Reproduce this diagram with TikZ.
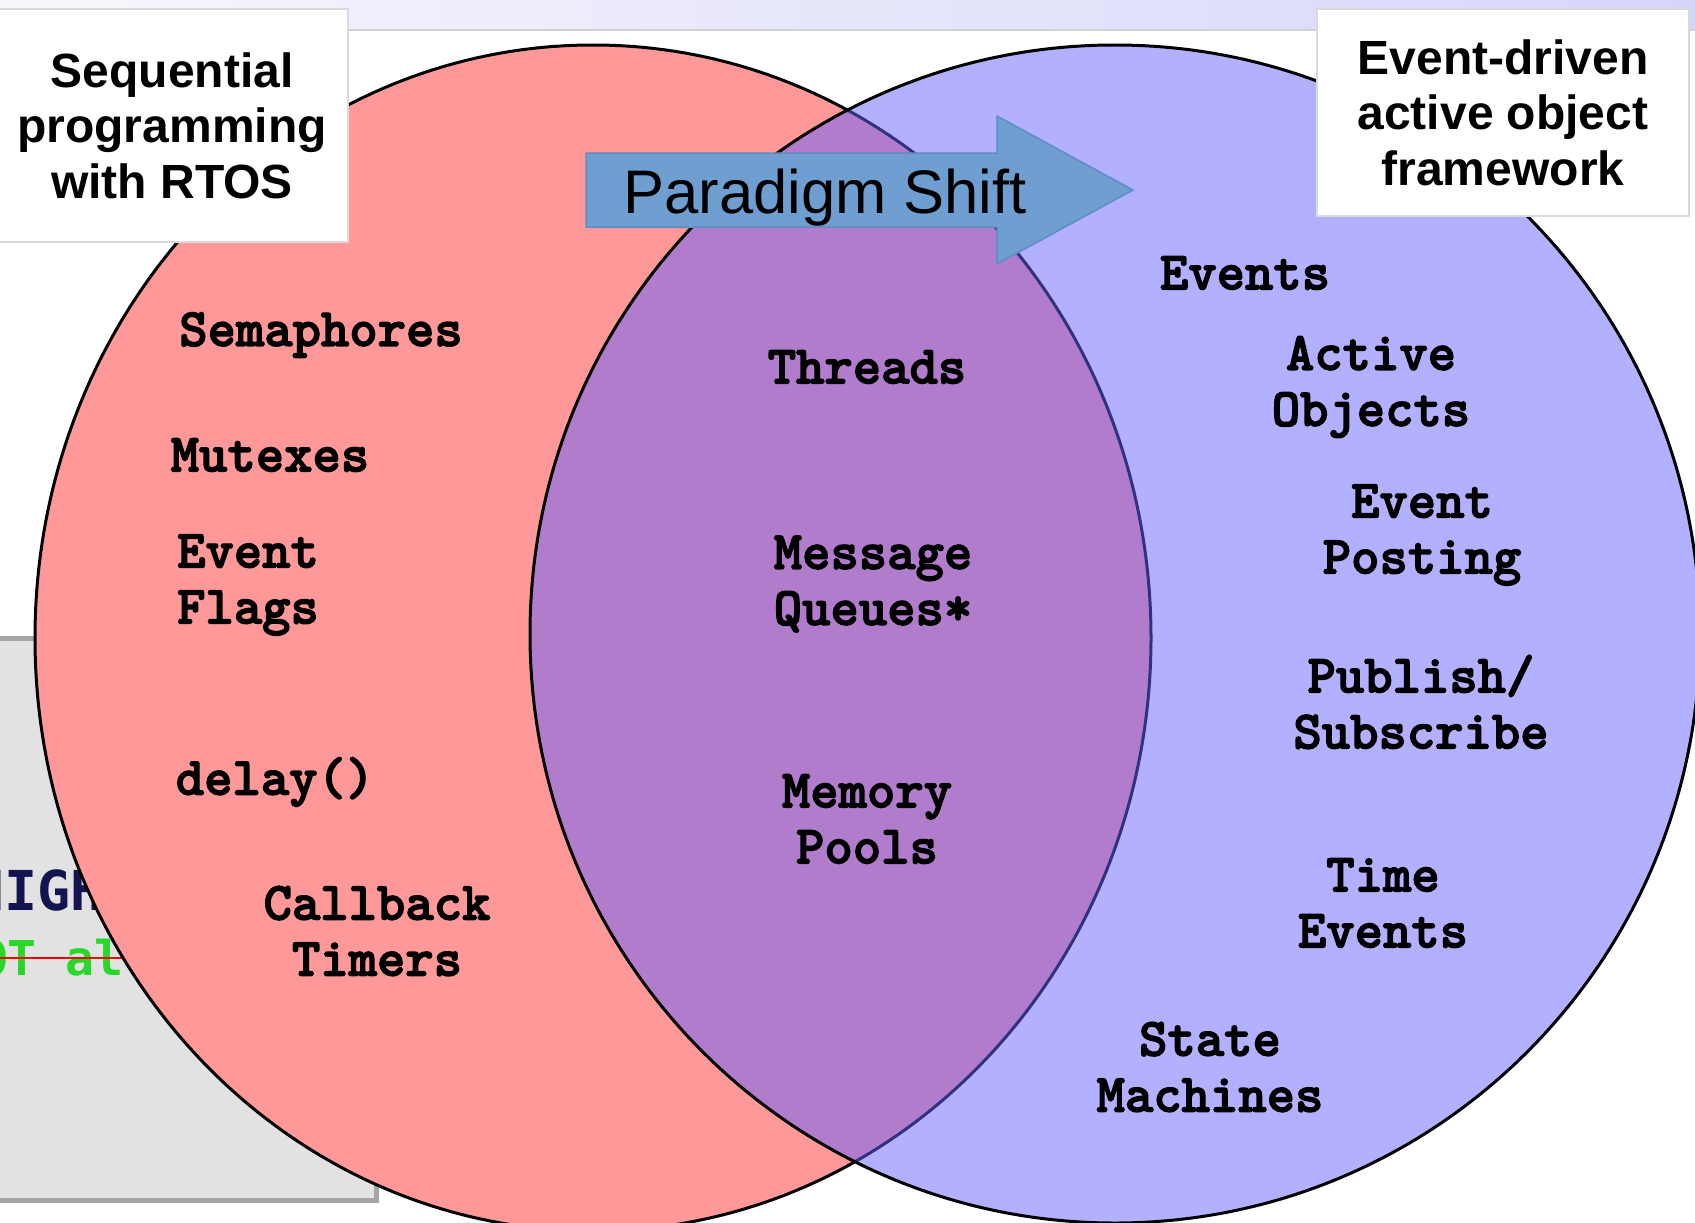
\documentclass[tikz,border=0pt]{standalone}
\usepackage{fontspec}
\newfontfamily\boxfont{Liberation Sans}
\newfontfamily\codefont{DejaVu Sans Mono}
\newfontfamily\itemfont[FakeBold=2.5]{lmmonolt10-bold.otf}
\usetikzlibrary{calc}

\definecolor{setpink}{RGB}{255,153,153}
\definecolor{setblue}{RGB}{101,97,255}
\definecolor{shiftblue}{RGB}{111,158,209}
\definecolor{shiftedge}{RGB}{96,140,196}
\definecolor{panelgray}{RGB}{226,226,226}
\definecolor{paneledge}{RGB}{165,165,165}
\definecolor{bandleft}{RGB}{247,247,252}
\definecolor{bandright}{RGB}{214,214,250}
\definecolor{hinavy}{RGB}{20,20,80}
\definecolor{hgreen}{RGB}{40,215,40}
\definecolor{boxedge}{RGB}{218,218,218}

\tikzset{
  item/.style={font=\fontsize{54}{56}\selectfont\itemfont, align=center, inner sep=0pt},
  titlebox/.style={draw=boxedge, line width=2.5pt, fill=white, align=center,
                   font=\fontsize{48}{55.5}\selectfont\boxfont\bfseries, inner sep=0pt},
  codeline/.style={inner sep=0pt, anchor=base west},
  outline/.style={draw=black, line width=3pt},
}

\begin{document}
\begin{tikzpicture}[x=1pt,y=-1pt]
\useasboundingbox (0,0) rectangle (1695,1223);
\clip (0,0) rectangle (1695,1223);

% header band
\shade[left color=bandleft, right color=bandright] (0,0) rectangle (1695,30);
\draw[black!18, line width=2pt] (0,30) -- (1695,30);

% grey code panel in the background
\draw[fill=panelgray, draw=paneledge, line width=5pt] (-20,638) rectangle (376,1200);
\node[codeline, text=hinavy, font=\fontsize{55}{55}\selectfont\codefont\bfseries] (high) at (-29,910) {HIGH};
\node[codeline, text=hgreen, font=\fontsize{48}{48}\selectfont\codefont\bfseries] (notal) at (-50,975) {NOT al};
\draw[red, line width=2pt] ($(notal.base west)+(0,-17)$) -- ($(notal.base east)+(0,-17)$);

% the two sets
\filldraw[fill=setpink, outline] (593,638) ellipse [x radius=558pt, y radius=593pt];
\fill[setblue, fill opacity=0.5] (1115,634) ellipse [x radius=585pt, y radius=589pt];
\draw[outline] (1115,634) ellipse [x radius=585pt, y radius=589pt];

% titles
\node[titlebox, minimum width=352pt, minimum height=233pt] (seq) at (172,125.5)
  {Sequential\\programming\\with RTOS};
\node[titlebox, minimum width=372pt, minimum height=207pt] (evt) at (1503,112.5)
  {Event-driven\\active object\\framework};

% paradigm shift arrow
\filldraw[fill=shiftblue, draw=shiftedge, line width=1.5pt]
  (586,153) -- (997,153) -- (997,116) -- (1133,190) -- (997,264) -- (997,227) -- (586,227) -- cycle;
\node[font=\fontsize{61.5}{70}\selectfont\boxfont, anchor=base, inner sep=0pt] (shift) at (825,213) {Paradigm Shift};

% sequential-only items
\node[item] (sem)   at (321,335) {Semaphores};
\node[item] (mutex) at (270,455) {Mutexes};
\node[item] (flags) at (248,585) {Event\\Flags};
\node[item] (delay) at (275,782) {delay()};
\node[item] (cbt)   at (377,931) {Callback\\Timers};

% shared items
\node[item] (thr)   at (867,367) {Threads};
\node[item] (mq)    at (873,584) {Message\\Queues*};
\node[item] (mem)   at (867,819) {Memory\\Pools};

% event-driven items
\node[item] (ev)    at (1245,273) {Events};
\node[item] (ao)    at (1371,387) {Active\\Objects};
\node[item] (post)  at (1422,535) {Event\\Posting};
\node[item] (pub)   at (1421,702) {Publish/\\Subscribe};
\node[item] (tev)   at (1383,903) {Time\\Events};
\node[item] (sm)    at (1210,1067) {State\\Machines};
\end{tikzpicture}
\end{document}
